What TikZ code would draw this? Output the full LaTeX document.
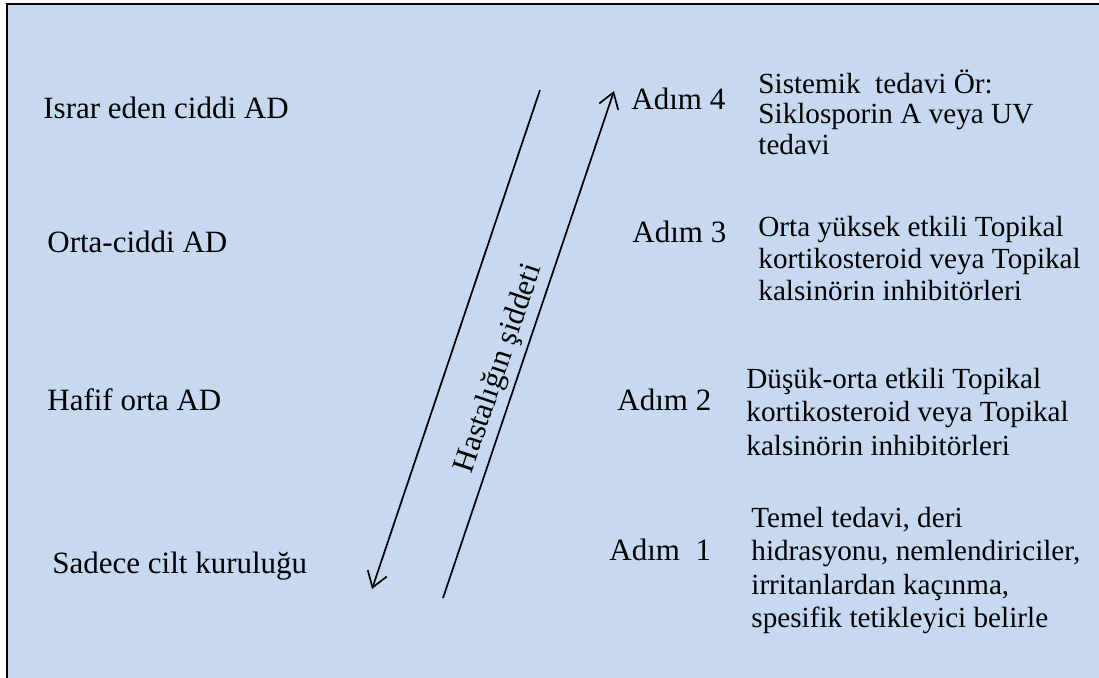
\documentclass[tikz,border=0pt]{standalone}
\usepackage{fontspec}
\setmainfont{Liberation Serif}
\usetikzlibrary{arrows.meta}
\definecolor{panelblue}{HTML}{C6D9F1}

\begin{document}
\begin{tikzpicture}[x=0.5pt, y=-0.5pt,
        level/.style={anchor=base west, inner sep=0pt, font=\fontsize{15.5}{18}\selectfont},
        stepname/.style={anchor=base west, inner sep=0pt, font=\fontsize{15.5}{18}\selectfont},
        therapy/.style={anchor=base west, inner sep=0pt, font=\fontsize{14.6}{#1}\selectfont},
        therapy/.default=16.5,
        sevline/.style={line width=0.85pt, -{Straight Barb[length=7.5pt,width=10pt]}}]
        \clip (0,0) rectangle (1099,677);
        \fill[panelblue] (7,4) rectangle (1110,690);
        \draw[line width=1.4pt] (1110,4) -- (7,4) -- (7,690);
        % severity levels
        \node[level] (l4) at (43,118) {Israr eden ciddi AD};
        \node[level] (l3) at (47,252) {Orta-ciddi AD};
        \node[level] (l2) at (47,410) {Hafif orta AD};
        \node[level] (l1) at (52,573) {Sadece cilt kuruluğu};
        % arrows
        \coordinate (lTop) at (540,90);
        \coordinate (lBot) at (372,589);
        \coordinate (rBot) at (443,598);
        \coordinate (rTop) at (614,91);
        \draw[sevline] (lTop) -- (lBot);
        \draw[sevline] (rBot) -- node[pos=0.44, rotate=71.4, anchor=south, inner sep=2.5pt, font=\fontsize{15.5}{18}\selectfont] (sev) {Hastalığın şiddeti} (rTop);
        % steps
        \node[stepname] (a4) at (631,109) {Adım 4};
        \node[stepname] (a3) at (632,242) {Adım 3};
        \node[stepname] (a2) at (617,410) {Adım 2};
        \node[stepname] (a1) at (609,560) {Adım\ \ 1};
        \node[therapy=15.3] (d4) at (758,93) {\begin{tabular}[t]{@{}l@{}}Sistemik\ \ tedavi Ör:\\Siklosporin A veya UV\\tedavi\end{tabular}};
        \node[therapy=16.1] (d3) at (758,236) {\begin{tabular}[t]{@{}l@{}}Orta yüksek etkili Topikal\\kortikosteroid veya Topikal\\kalsinörin inhibitörleri\end{tabular}};
        \node[therapy=16.8] (d2) at (746,388) {\begin{tabular}[t]{@{}l@{}}Düşük-orta etkili Topikal\\kortikosteroid veya Topikal\\kalsinörin inhibitörleri\end{tabular}};
        \node[therapy=16.8] (d1) at (751,527) {\begin{tabular}[t]{@{}l@{}}Temel tedavi, deri\\hidrasyonu, nemlendiriciler,\\irritanlardan kaçınma,\\spesifik tetikleyici belirle\end{tabular}};
    \end{tikzpicture}
\end{document}
